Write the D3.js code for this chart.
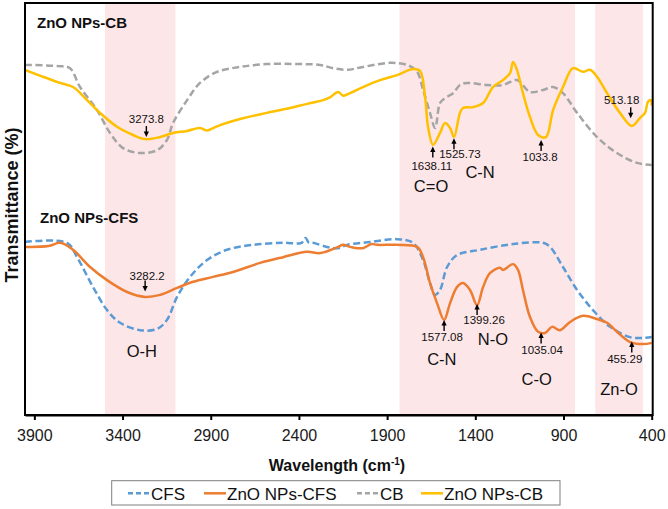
<!DOCTYPE html>
<html><head><meta charset="utf-8">
<script src="https://cdn.jsdelivr.net/npm/d3@7"></script>
<style>html,body{margin:0;padding:0;background:#fff;} svg{display:block;font-family:"Liberation Sans",Arial,sans-serif;}</style>
</head><body><svg id="c" width="668" height="509"></svg>
<script>
// ---------------- DATA ----------------
const seriesNames = ["CFS", "ZnO NPs-CFS", "CB", "ZnO NPs-CB"];
const xTicks = [3900, 3400, 2900, 2400, 1900, 1400, 900, 400];
const bands = [[3500, 3100], [1830, 835], [720, 450]];

// [wavenumber cm-1, transmittance (arbitrary %)]
const cfs = [[3953,41.7],[3715,41.5],[3658,38.0],[3567,30.7],[3488,25.1],[3414,22.0],[3301,20.2],[3204,20.5],[3148,22.7],[3091,28.3],[3017,33.2],[2921,37.3],[2808,39.8],[2660,41.0],[2490,41.5],[2385,41.5],[2362,42.7],[2345,41.6],[2320,41.5],[2241,40.5],[2178,40.2],[2127,41.0],[1997,41.7],[1844,42.4],[1753,41.5],[1696,37.3],[1657,31.7],[1628,28.8],[1600,30.0],[1560,35.6],[1504,38.5],[1373,39.8],[1186,41.2],[1016,41.5],[976,40.5],[903,35.6],[823,30.0],[733,25.1],[636,21.0],[523,18.5],[449,18.3],[400,18.5]];
const znoCfs = [[3953,40.5],[3820,40.7],[3754,41.5],[3681,39.8],[3584,35.6],[3488,32.4],[3374,29.5],[3272,28.3],[3187,28.8],[3091,30.5],[3000,32.0],[2887,33.2],[2774,34.4],[2620,36.6],[2490,38.0],[2354,39.3],[2280,39.0],[2178,40.5],[2150,41.0],[2100,40.4],[2037,40.2],[1990,41.2],[1957,41.0],[1844,41.0],[1730,40.5],[1696,38.0],[1657,31.7],[1617,26.8],[1577,22.7],[1543,26.8],[1504,30.7],[1470,31.7],[1430,30.0],[1390,26.3],[1356,30.7],[1317,34.1],[1260,35.4],[1243,34.9],[1186,36.3],[1158,34.9],[1130,30.0],[1090,23.4],[1044,19.8],[1005,19.5],[965,21.0],[920,20.2],[863,22.2],[789,23.7],[710,22.9],[653,22.0],[597,19.8],[523,17.3],[449,16.8],[400,17.1]];
const cb = [[3953,84.9],[3760,84.6],[3698,84.1],[3641,79.5],[3545,73.9],[3471,68.3],[3397,64.6],[3301,63.4],[3204,64.1],[3148,66.6],[3114,70.7],[3034,76.3],[2961,80.5],[2864,83.2],[2734,84.4],[2581,85.1],[2394,85.1],[2280,84.9],[2207,84.1],[2127,83.7],[2037,84.4],[1884,85.4],[1787,84.9],[1730,83.2],[1696,78.8],[1657,73.2],[1628,69.5],[1600,75.6],[1572,76.8],[1526,78.0],[1487,80.0],[1447,80.5],[1334,80.0],[1243,80.0],[1164,81.2],[1090,78.3],[1016,78.8],[959,79.5],[903,78.0],[823,73.2],[710,67.3],[597,63.4],[483,61.0],[400,60.5]];
const znoCb = [[3953,83.7],[3851,82.0],[3754,80.5],[3681,79.5],[3601,76.3],[3528,73.2],[3431,69.8],[3340,67.8],[3272,66.8],[3187,67.3],[3114,68.3],[3034,68.8],[2961,69.5],[2921,68.9],[2880,69.6],[2847,70.2],[2734,71.7],[2581,73.2],[2450,74.4],[2354,75.4],[2263,76.3],[2224,77.0],[2178,78.3],[2150,77.4],[2110,78.0],[2037,79.5],[1940,81.2],[1844,82.4],[1753,83.9],[1713,83.4],[1685,77.1],[1668,69.8],[1640,65.4],[1600,68.3],[1572,70.7],[1543,69.5],[1521,67.3],[1487,73.2],[1470,74.4],[1413,74.6],[1356,75.6],[1300,79.5],[1243,81.2],[1203,82.9],[1186,85.6],[1164,83.7],[1130,78.0],[1090,72.2],[1044,67.8],[1000,67.3],[959,73.9],[903,79.5],[846,84.1],[789,83.2],[750,83.7],[710,82.0],[653,78.0],[580,73.2],[512,70.0],[466,72.0],[438,73.2],[421,75.9],[404,76.3],[400,75.0]];

const peakLabels = ["3273.8","1638.11","1525.73","1033.8","513.18","3282.2","1577.08","1399.26","1035.04","455.29"];
const peakWn = [3265,1641,1521,1027,519,3272,1577,1390,1027,513];
const peakT = [67.3,65.0,67.0,66.6,71.9,29.6,22.7,26.6,19.6,17.4];
const peakDir = ["down","up","up","up","down","down","up","up","up","up"];

const bondLabels = ["C=O","C-N","O-H","C-N","N-O","C-O","Zn-O"];
const bondWn = [1651,1373,3291,1590,1300,1052,585];
const bondT = [53.9,57.3,13.7,11.7,16.6,6.8,4.4];

const panelTitles = ["ZnO NPs-CB","ZnO NPs-CFS"];
const panelWn = [3885,3868];
const panelT = [93.9,46.3];

// ---------------- LAYOUT / STYLE ----------------
(function () {
const FONT = '"Liberation Sans", Arial, sans-serif';
const colors = ["#5B9BD5","#ED7D31","#A5A5A5","#FFC000"];
const dashed = [true,false,true,false];
const seriesData = [cfs, znoCfs, cb, znoCb];
const labelDx = [0,-1,6,-1,-9,2,-2,7,1,-7];
const labelDy = [0,2,-2,0,0,2,0,-1,0,0];

const pL = 25, pR = 651.7, pT = 3, pB = 415;
const x = d3.scaleLinear().domain([3953, 400]).range([pL, pR]);
const y = d3.scaleLinear().domain([-0.5, 100]).range([pB, pT]);
const svg = d3.select("#c");

svg.append("defs").append("clipPath").attr("id","clip")
  .append("rect").attr("x",pL).attr("y",pT).attr("width",652.7-pL).attr("height",pB-pT);

svg.append("g").selectAll("rect").data(bands).join("rect")
  .attr("x", d => x(d[0])).attr("width", d => x(d[1]) - x(d[0]))
  .attr("y", pT).attr("height", pB - pT).attr("fill", "#fde6e8");

const line = d3.line().x(d => x(d[0])).y(d => y(d[1])).curve(d3.curveCatmullRom.alpha(0.5));
const gl = svg.append("g").attr("clip-path","url(#clip)");
seriesData.forEach((s, i) => {
  gl.append("path").datum(s).attr("d", line).attr("fill","none")
    .attr("stroke", colors[i]).attr("stroke-width", 2.5)
    .attr("stroke-linejoin","round")
    .attr("stroke-dasharray", dashed[i] ? "7,3.5" : null);
});

svg.append("rect").attr("x",pL).attr("y",pT).attr("width",652.7-pL).attr("height",pB-pT)
  .attr("fill","none").attr("stroke","#000").attr("stroke-width",2);

const ax = svg.append("g").attr("transform",`translate(0,${pB})`)
  .call(d3.axisBottom(x).tickValues(xTicks).tickSize(5).tickSizeOuter(0).tickPadding(10).tickFormat(d3.format("d")));
ax.select(".domain").attr("stroke-width",2).attr("stroke","#000");
ax.selectAll(".tick line").attr("stroke-width",2).attr("stroke","#000");
ax.selectAll(".tick text").attr("font-size",16).attr("font-family",FONT).attr("fill","#1a1a1a");

const xt = svg.append("text").attr("x",337).attr("y",471).attr("text-anchor","middle")
  .attr("font-size",16).attr("font-weight","bold").attr("fill","#111");
xt.append("tspan").text("Wavelength (cm");
xt.append("tspan").attr("font-size",10).attr("dy",-6).text("-1");
xt.append("tspan").attr("dy",6).text(")");

svg.append("text").attr("transform","translate(17.5,205) rotate(-90)").attr("text-anchor","middle")
  .attr("font-size",18).attr("font-weight","bold").attr("fill","#111").text("Transmittance (%)");

panelTitles.forEach((t,i) => {
  svg.append("text").attr("x",x(panelWn[i])).attr("y",y(panelT[i]))
    .attr("font-size",15).attr("font-weight","bold").attr("fill","#111").text(t);
});

peakLabels.forEach((t,i) => {
  const ax0 = x(peakWn[i]), ty = y(peakT[i]);
  const s = peakDir[i] === "up" ? 1 : -1;
  svg.append("line").attr("x1",ax0).attr("x2",ax0).attr("y1",ty + s*4).attr("y2",ty + s*11)
    .attr("stroke","#000").attr("stroke-width",1.4);
  svg.append("path").attr("d",`M${ax0},${ty}L${ax0-2.6},${ty+s*5.5}L${ax0+2.6},${ty+s*5.5}Z`).attr("fill","#000");
  const by = (s === 1 ? ty + 11 + 10.5 : ty - 11 - 3) + labelDy[i];
  svg.append("text").attr("x",ax0 + labelDx[i]).attr("y",by).attr("text-anchor","middle")
    .attr("font-size",11.5).attr("fill","#111").text(t);
});

bondLabels.forEach((t,i) => {
  svg.append("text").attr("x",x(bondWn[i])).attr("y",y(bondT[i])).attr("text-anchor","middle")
    .attr("font-size",16.5).attr("fill","#111").text(t);
});

svg.append("rect").attr("x",111.7).attr("y",480.7).attr("width",448.3).attr("height",24.3)
  .attr("fill","#fff").attr("stroke","#7f7f7f").attr("stroke-width",1);
const legX = [128, 204, 357, 421];
seriesNames.forEach((n,i) => {
  svg.append("line").attr("x1",legX[i]).attr("x2",legX[i]+22).attr("y1",493.3).attr("y2",493.3)
    .attr("stroke",colors[i]).attr("stroke-width",2.5).attr("stroke-dasharray",dashed[i]?"5,3":null);
  svg.append("text").attr("x",legX[i]+23).attr("y",499.5).attr("font-size",17).attr("fill","#111").text(n);
});
})();
</script></body></html>
